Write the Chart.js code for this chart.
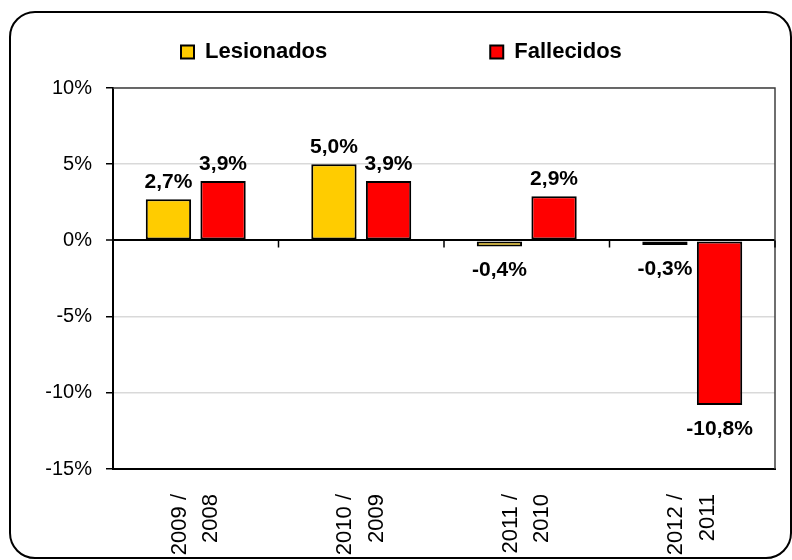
<!DOCTYPE html>
<html>
<head>
<meta charset="utf-8">
<script src="https://cdn.jsdelivr.net/npm/chart.js@4"></script>
<style>
  body { margin: 0; background: #fff; }
  #wrap { position: relative; width: 792px; height: 560px; overflow: hidden; }
  #frame {
    position: absolute; left: 9px; top: 11px; width: 783px; height: 548px;
    box-sizing: border-box; border: 2px solid #000; border-radius: 26px;
  }
  canvas { position: absolute; left: 0; top: 0; }
</style>
</head>
<body>
<div id="wrap">
  <div id="frame"></div>
  <canvas id="chart" width="792" height="560"></canvas>
</div>
<script>
const periods = [["2009 /", "2008"], ["2010 /", "2009"], ["2011 /", "2010"], ["2012 /", "2011"]];
const lesionados = [2.7, 5.0, -0.4, -0.3];
const fallecidos = [3.9, 3.9, 2.9, -10.8];
const yTicks = [-15, -10, -5, 0, 5, 10];

const fmt = (v) => v.toFixed(1).replace(".", ",") + "%";

Chart.defaults.font.family = "Arial, 'Liberation Sans', sans-serif";
Chart.defaults.color = "#000";

// dark frame on top/right of the plot + small category ticks on the zero line
const plotFrame = {
  id: "plotFrame",
  beforeDatasetsDraw(chart) {
    const { ctx, chartArea: a, scales: { x, y } } = chart;
    ctx.save();
    ctx.strokeStyle = "#404040";
    ctx.lineWidth = 1.5;
    ctx.beginPath();
    ctx.moveTo(a.left, a.top);
    ctx.lineTo(a.right, a.top);
    ctx.lineTo(a.right, a.bottom);
    ctx.stroke();

    const y0 = y.getPixelForValue(0);
    ctx.strokeStyle = "#000";
    ctx.beginPath();
    for (let i = 1; i <= periods.length; i++) {
      const px = i === periods.length
        ? a.right
        : (x.getPixelForValue(i - 1) + x.getPixelForValue(i)) / 2;
      ctx.moveTo(px, y0);
      ctx.lineTo(px, y0 + 7);
    }
    ctx.stroke();
    ctx.restore();
  }
};

// value labels above / below each bar
const barLabels = {
  id: "barLabels",
  afterDatasetsDraw(chart) {
    const ctx = chart.ctx;
    ctx.save();
    ctx.font = "bold 21px Arial, 'Liberation Sans', sans-serif";
    ctx.fillStyle = "#000";
    ctx.textAlign = "center";
    ctx.textBaseline = "middle";
    chart.data.datasets.forEach((ds, i) => {
      chart.getDatasetMeta(i).data.forEach((bar, j) => {
        const v = ds.data[j];
        ctx.fillText(fmt(v), bar.x, v >= 0 ? bar.y - 17 : bar.y + 24);
      });
    });
    ctx.restore();
  }
};

new Chart(document.getElementById("chart"), {
  type: "bar",
  data: {
    labels: periods,
    datasets: [
      {
        label: "Lesionados",
        data: lesionados,
        backgroundColor: "#FFCC00",
        borderColor: "#000",
        borderWidth: 2,
        borderSkipped: false,
      },
      {
        label: "Fallecidos",
        data: fallecidos,
        backgroundColor: "#FF0000",
        borderColor: "#000",
        borderWidth: 2,
        borderSkipped: false,
      },
    ],
  },
  options: {
    responsive: false,
    animation: false,
    categoryPercentage: 0.66,
    barPercentage: 0.83,
    // the wide legend spacing also pads it vertically, so pull it up
    layout: { padding: { left: 18, right: 0, top: -122, bottom: 0 } },
    plugins: {
      legend: {
        align: "start",
        labels: {
          boxWidth: 13,
          boxHeight: 13,
          padding: 163,
          color: "#000",
          font: { size: 22, weight: "bold" },
        },
      },
      // empty title used as a spacer between legend and plot
      title: {
        display: true,
        text: "",
        weight: 500,
        font: { size: 10, lineHeight: 1 },
        padding: { top: 5, bottom: 0 },
      },
      tooltip: { enabled: false },
    },
    scales: {
      x: {
        grid: { display: false },
        border: { color: "#000", width: 2 },
        ticks: {
          minRotation: 90,
          maxRotation: 90,
          autoSkip: false,
          padding: 17,
          labelOffset: -16,
          color: "#000",
          font: { size: 22, lineHeight: 1.43 },
        },
        afterFit: (s) => { s.height = 91; },
      },
      y: {
        min: -15,
        max: 10,
        afterBuildTicks: (s) => { s.ticks = yTicks.map((v) => ({ value: v })); },
        grid: {
          color: (c) => (c.tick.value === 0 || c.tick.value === -15 ? "#000" : "#d9d9d9"),
          lineWidth: (c) => (c.tick.value === 0 ? 2 : 1.5),
          tickColor: "#000",
          tickLength: 7,
          tickWidth: 1.5,
        },
        border: { color: "#000", width: 2 },
        ticks: {
          padding: 14,
          color: "#000",
          font: { size: 20 },
          callback: (v) => v + "%",
        },
        afterFit: (s) => { s.width = 95; },
      },
      yRight: {
        position: "right",
        grid: { display: false },
        border: { display: false },
        ticks: { display: false },
        afterFit: (s) => { s.width = 17; s.paddingTop = 0; s.paddingBottom = 0; },
      },
    },
  },
  plugins: [plotFrame, barLabels],
});
</script>
</body>
</html>
